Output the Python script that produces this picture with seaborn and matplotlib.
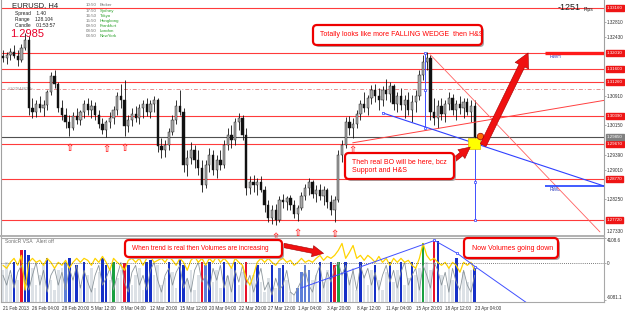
import numpy as np
import matplotlib
matplotlib.use('Agg')
import matplotlib.pyplot as plt
import matplotlib.transforms as mtransforms
from matplotlib.patches import FancyBboxPatch, Rectangle
import seaborn as sns

# ── DATA: EURUSD H4 candles (price x 10000) ─────────────────
first_open = 13193
high = [13209, 13203, 13214, 13221, 13209, 13224, 13252, 13245, 13085, 13080,
        13090, 13080, 13106, 13152, 13157, 13126, 13080, 13059, 13041, 13049,
        13059, 13054, 13080, 13085, 13080, 13075, 13054, 13034, 13029, 13049,
        13065, 13101, 13121, 13131, 13041, 13059, 13065, 13070, 13080, 13085,
        13080, 13090, 13085, 12982, 12977, 13008, 13041, 13080, 13106, 13059,
        12952, 12972, 12964, 12952, 12926, 12926, 12957, 12952, 12939, 12952,
        12977, 13008, 13016, 13034, 13047, 13041, 13008, 12885, 12887, 12880,
        12885, 12859, 12823, 12810, 12813, 12833, 12838, 12833, 12836, 12823,
        12810, 12844, 12864, 12880, 12874, 12862, 12864, 12859, 12854, 12836,
        12833, 12952, 12977, 13036, 13039, 13034, 13054, 13080, 13101, 13093,
        13119, 13121, 13111, 13116, 13134, 13126, 13121, 13101, 13111, 13093,
        13101, 13093, 13106, 13157, 13196, 13203, 13196, 13085, 13080, 13085,
        13080, 13101, 13095, 13080, 13090, 13085, 13085, 13080, 13080]
low = [13178, 13173, 13183, 13188, 13167, 13178, 13209, 13041, 13034, 13036,
       13049, 13039, 13054, 13093, 13111, 13049, 13029, 13008, 12987, 13003,
       13018, 13016, 13034, 13041, 13034, 13029, 13008, 12993, 12985, 13008,
       13018, 13041, 13059, 12987, 12998, 13013, 13023, 13018, 13034, 13039,
       13034, 13049, 12946, 12931, 12933, 12952, 12990, 13018, 13041, 12895,
       12885, 12916, 12905, 12887, 12844, 12854, 12895, 12887, 12880, 12900,
       12905, 12952, 12957, 12964, 13003, 12977, 12836, 12838, 12844, 12836,
       12844, 12792, 12766, 12761, 12759, 12766, 12802, 12797, 12797, 12777,
       12769, 12797, 12823, 12836, 12828, 12818, 12823, 12810, 12802, 12784,
       12766, 12818, 12921, 12957, 12990, 12982, 13008, 13029, 13049, 13041,
       13070, 13075, 13054, 13065, 13080, 13075, 13054, 13049, 13054, 13034,
       13041, 13023, 13049, 13080, 13131, 13157, 13029, 13016, 13008, 13029,
       13023, 13054, 13041, 13029, 13044, 13034, 13041, 13023, 12977]
close = [13188, 13196, 13203, 13193, 13183, 13214, 13234, 13059, 13049, 13070,
         13059, 13067, 13101, 13142, 13121, 13059, 13041, 13023, 13008, 13039,
         13029, 13049, 13070, 13054, 13065, 13041, 13018, 13003, 13023, 13034,
         13054, 13090, 13080, 13013, 13029, 13044, 13034, 13059, 13070, 13049,
         13070, 13080, 12962, 12952, 12964, 12998, 13029, 13065, 13049, 12913,
         12931, 12952, 12926, 12905, 12862, 12913, 12939, 12900, 12926, 12913,
         12964, 12990, 12977, 13023, 13034, 12990, 12854, 12869, 12862, 12869,
         12849, 12810, 12777, 12797, 12772, 12823, 12818, 12828, 12810, 12787,
         12802, 12833, 12854, 12869, 12838, 12849, 12833, 12849, 12818, 12797,
         12823, 12939, 12964, 13023, 13008, 13018, 13044, 13070, 13059, 13085,
         13106, 13090, 13080, 13106, 13095, 13116, 13070, 13090, 13067, 13080,
         13054, 13075, 13090, 13144, 13178, 13188, 13049, 13034, 13065, 13044,
         13070, 13085, 13054, 13070, 13059, 13075, 13049, 13065, 12985]

date_labels = ['21 Feb 2013', '26 Feb 04:00', '28 Feb 20:00', '5 Mar 12:00', '8 Mar 04:00',
               '12 Mar 20:00', '15 Mar 12:00', '20 Mar 04:00', '22 Mar 20:00', '27 Mar 12:00',
               '1 Apr 04:00', '3 Apr 20:00', '8 Apr 12:00', '11 Apr 04:00', '15 Apr 20:00',
               '18 Apr 12:00', '23 Apr 04:00']

# horizontal levels (price x 10000)
red_levels = [13316, 13201, 13160, 13126, 13039, 12967, 12877, 12772]
dash_level = 13108
last_price = 12985
rwh_level = 13201
rwl_level = 12859
fractal_idx = [18, 28, 33, 74, 80, 90, 95]

# drawn trend lines: (candle index, price x 10000)
fall_line = ([116, 162], [13196, 12741])
rise_line = ([94.9, 163.1], [12970, 13079])
wedge_line = ([103, 163.1], [13047, 12859])
vert1 = ([114.6, 114.6, 114.6], [13201, 13106, 13008])
vert2 = ([128.2, 128.2, 128.2], [12964, 12869, 12772])

# ── DATA: SonicR VSA sub window ─────────────────────────────
vol = [-1230, 60, -2040, 60, -2850, 2010, 2010, 1200, -910, -3650,
       -2040, -420, 710, -2850, -4460, -1230, -910, 60, 710, -2520,
       -420, -3650, 60, -2040, -910, -4140, -1550, 710, -420, -2850,
       60, -2520, -1230, -100, -420, -3650, -2040, -910, -4460, 60,
       390, -2040, -420, -3650, -2520, 60, -1550, -4140, 390, -420,
       -2850, -1230, -4460, -2040, 60, -420, 60, -3170, -1230, -4140,
       60, -2200, -910, 60, -3650, -1550, 60, -3650, -2040, -420,
       -3170, -4790, -2520, -420, -4140, -910, -420, -2850, -4790, -5270,
       -4140, -1550, -420, -1230, -2850, -2040, 60, -3170, -1230, 60,
       -420, 60, -1550, 60, -2850, -910, -4460, 60, -2040, -3650,
       -1230, -420, -2850, -4460, -1550, 60, -3170, -1230, 60, -3650,
       -2520, 60, -2040, -910, 3140, 60, -1230, 3620, 3460, -2040,
       -3650, -910, -2850, 710, -4460, -1550, -3170, -1230, -910]
vol_kind = list("gggbgrbbgg" "ggbggggmbg" "bgbggggbbg" "nggrbggggb" "bggggbggbb"
                "ggggrmbggg" "bggbggrggb" "gggbgmbggg" "mmmmggbggb" "rngbgggbgg"
                "gbgggbggbg" "gbggnggrbg" "gggbggggb")
yellow = [-420, -910, 60, 710, -420, 1200, -4460, 60, 710, 60,
          390, -420, 710, 60, -910, 60, -420, 390, -910, 60,
          710, 60, 710, 390, -420, 710, 60, 1030, 60, -1230,
          710, 60, -420, -1230, 390, 710, 60, 710, -420, 710,
          1030, 60, 390, 710, 60, 1030, 390, -420, 710, 60,
          -1230, 390, 1030, 60, 710, -420, 710, 60, 1030, 60,
          710, 60, -910, 710, 60, -420, -2520, -3650, -2040, 60,
          710, 60, 710, 60, -420, 390, 710, 60, 390, -420,
          60, 710, 60, 390, 60, 710, 1200, 390, 1030, 710,
          1200, 2010, 3140, 710, 1680, 2810, 710, 1200, 390, 1200,
          710, 60, 1030, 60, 710, -420, 710, 60, 710, 60,
          390, -420, -910, 710, 3140, 1200, 390, 710, 60, -420,
          60, -910, 60, -420, -1550, 60, -420, 60, -1230]
grey_line = [-2040, -3650, -1230, -4140, -1550, -420, -2850, -4460, -2040, 60,
             -3650, -1230, -4790, -2040, -910, -3650, -1550, -4460, -910, -2850,
             -420, -4140, -1230, -3170, -4790, -2040, -420, -3650, -2520, -910,
             -4460, -2040, 60, -3170, -4790, -1550, -420, -3650, -2040, -4460,
             -1230, 60, -2850, -4790, -2040, -910, -3650, -1550, -420, -4140,
             -2520, -4790, -1230, 60, -3170, -2040, -4460, -910, -2850, -420,
             -4140, -2040, -4790, -1230, -3170, -420, -3650, -2040, -4790, -2850,
             -910, -4460, -3170, -5270, -2520, -4460, -3650, -1230, -4790, -5270,
             -4140, -2850, -1230, -3650, -4790, -2040, -420, -4140, -1550, -3170,
             -910, 60, -2040, -420, -3650, -1230, -4460, -420, -2520, -910,
             -3650, -1550, -4460, -2040, -420, -3170, -1230, -4140, -1550, 60,
             -3650, -2040, -910, -4460, -420, -2040, -4140, 60, -1230, -3650,
             -1550, -4790, -910, -3170, -4460, -1230, -3650, -4790, -2040]
vsa_up = ([80.8, 117.1], [-4140, 3622])
vsa_down = ([117.1, 123.3, 128.2, 142.8], [3622, 1520, -660, -6820])

# ── SETUP ───────────────────────────────────────────────────
sns.set_theme(style="white")
plt.rcParams['font.family'] = ['Liberation Sans', 'DejaVu Sans']
W, H = 625, 312
PX = mtransforms.IdentityTransform()

fig = plt.figure(figsize=(W / 100, H / 100), dpi=100)
fig.patch.set_facecolor('white')
ax = fig.add_axes([1 / W, 76 / H, 603 / W, 236 / H])
ax2 = fig.add_axes([1 / W, 10 / H, 603 / W, 64.5 / H])

idx = np.arange(len(close))
hi = np.array(high) / 1e4
lo = np.array(low) / 1e4
cl = np.array(close) / 1e4
op = np.r_[first_open / 1e4, cl[:-1]]

# ═══════════════════════════════════════════════════════════
# MAIN PRICE WINDOW
# ═══════════════════════════════════════════════════════════
for lv in red_levels:
    ax.axhline(lv / 1e4, color='#ff3b3b', lw=0.8, zorder=1)
ax.axhline(dash_level / 1e4, color='#e89090', lw=0.7, ls=(0, (4, 2, 1, 2)), zorder=1)
ax.axhline(last_price / 1e4, color='#505050', lw=0.8, zorder=1)

ax.vlines(idx, np.minimum(lo, np.minimum(op, cl)), np.maximum(hi, np.maximum(op, cl)),
          color='#111111', lw=0.6, zorder=3)
body_col = ['#111111' if c < o else '#a8a8a8' for o, c in zip(op, cl)]
ax.bar(idx, np.abs(cl - op), bottom=np.minimum(op, cl), width=0.62,
       color=body_col, edgecolor='#111111', linewidth=0.3, zorder=4)

for j in fractal_idx:
    ax.text(j, lo[j] - 0.0031, '⇧', color='#ff2a2a', fontsize=7, fontweight='bold',
            ha='center', va='center', zorder=5)

ax.plot(np.array(fall_line[0]), np.array(fall_line[1]) / 1e4, color='#ff6060', lw=0.6, zorder=5)
ax.plot(np.array(rise_line[0]), np.array(rise_line[1]) / 1e4, color='#ff4040', lw=0.7, zorder=5)
ax.plot(np.array(wedge_line[0]), np.array(wedge_line[1]) / 1e4, color='#3040ff', lw=0.8, zorder=5)
ax.plot(wedge_line[0][0], wedge_line[1][0] / 1e4, 's', ms=1.8, mfc='white', mec='#3040ff', mew=0.5, zorder=6)
for vx, vy in (vert1, vert2):
    ax.plot(vx, np.array(vy) / 1e4, color='#4050ff', lw=0.7, marker='s', ms=1.8,
            mfc='white', mec='#3040ff', mew=0.5, zorder=6)

ax.plot([147.2, 163.1], [rwh_level / 1e4] * 2, color='#ff1a1a', lw=2.4, zorder=5, solid_capstyle='butt')
ax.plot([147.2, 163.1], [rwl_level / 1e4] * 2, color='#2040ff', lw=1.2, zorder=5, solid_capstyle='butt')
ax.text(148.3, rwh_level / 1e4 - 0.0003, 'RWH', color='#3040c0', fontsize=3.6, va='top')
ax.text(148.3, rwl_level / 1e4 - 0.0003, 'RWL', color='#3040c0', fontsize=3.6, va='top')

ax.add_patch(Rectangle((126.3, 1.2954), 3.2, 0.0028, fc='#ffff00', ec='#e0c000', lw=0.5, zorder=7))
ax.scatter([129.5], [1.2987], s=22, color='#ff6a00', edgecolor='#a00000', lw=0.5, zorder=8)

big = dict(arrowstyle='simple,head_length=0.85,head_width=0.9,tail_width=0.38',
           fc='#f01010', ec='#a00000', lw=0.4, mutation_scale=12, shrinkA=0, shrinkB=0)
ax.annotate('', xy=(142.5, 1.3201), xytext=(130.3, 1.2964), arrowprops=big, zorder=9)
small = dict(arrowstyle='simple,head_length=0.9,head_width=0.9,tail_width=0.35',
             fc='#f01010', ec='#a00000', lw=0.4, mutation_scale=9, shrinkA=0, shrinkB=0)
ax.annotate('', xy=(126.8, 1.2959), xytext=(120.0, 1.2908), arrowprops=small, zorder=9)

ax.set_xlim(-0.54, 163.1)
ax.set_ylim(1.27305, 1.3337)
ax.set_xticks([])
ax.yaxis.tick_right()
# price scale ticks, skipping the ones hidden behind the level boxes
boxed = red_levels + [last_price]
ticks = [t for t in (13281 - 38 * k for k in range(14))
         if min(abs(t - b) for b in boxed) > 17]
ax.set_yticks([t / 1e4 for t in ticks])
ax.set_yticklabels([f'{t / 1e4:.5f}' for t in ticks])
ax.tick_params(axis='y', labelsize=3.3, labelcolor='#303030', length=1.2, width=0.4,
               color='#707070', pad=0.8)
for s in ['left', 'right']:
    ax.spines[s].set_color('#a0a0a0'); ax.spines[s].set_linewidth(0.8)
ax.spines['bottom'].set_color('#b0b0b0'); ax.spines['bottom'].set_linewidth(1.4)
ax.spines['top'].set_visible(False)
ax.grid(False)

# price labels on right
blend = mtransforms.blended_transform_factory(ax.transAxes, ax.transData)
for lv in red_levels:
    ax.text(1.0045, lv / 1e4, f'{lv / 1e4:.5f}', transform=blend, fontsize=3.2, color='white',
            va='center', ha='left', zorder=10,
            bbox=dict(boxstyle='square,pad=0.25', fc='#ee1515', ec='#ee1515'))
ax.text(1.0045, last_price / 1e4, f'{last_price / 1e4:.5f}', transform=blend, fontsize=3.2,
        color='white', va='center', ha='left', zorder=10,
        bbox=dict(boxstyle='square,pad=0.25', fc='#808080', ec='#808080'))
ax.text(1.0045, 1.2736, '1.27330', transform=blend, fontsize=3.3, color='#303030',
        va='bottom', ha='left')
ax.text(0.012, dash_level / 1e4, '#20764462 lb', transform=blend, fontsize=3,
        color='#909090', va='center')

# ═══════════════════════════════════════════════════════════
# SonicR VSA WINDOW
# ═══════════════════════════════════════════════════════════
kind_col = {'g': '#dce1e6', 'b': '#1530c8', 'r': '#e8102a', 'n': '#18a040', 'm': '#5e7fd8'}
vbot = -6403
ax2.bar(idx, np.array(vol) - vbot, bottom=vbot, width=0.7,
        color=[kind_col[k] for k in vol_kind], linewidth=0, zorder=2)
sns.lineplot(x=idx, y=grey_line, ax=ax2, color='#8c969c', lw=0.6, zorder=3)
sns.lineplot(x=idx, y=yellow, ax=ax2, color='#ffd400', lw=0.9, zorder=4)
ax2.axhline(0, color='#505050', lw=0.6, ls=(0, (1, 1.5)), zorder=5)
ax2.plot(vsa_up[0], vsa_up[1], color='#4050ff', lw=0.7, zorder=6)
ax2.plot(vsa_down[0], vsa_down[1], color='#4050ff', lw=0.7, marker='s', ms=1.8,
         mfc='white', mec='#3040ff', mew=0.5, zorder=6)
lowarr = dict(arrowstyle='simple,head_length=0.9,head_width=0.9,tail_width=0.35',
              fc='#f01010', ec='#a00000', lw=0.4, mutation_scale=9, shrinkA=0, shrinkB=0)
ax2.annotate('', xy=(87.0, 1520), xytext=(76.2, 2814), arrowprops=lowarr, zorder=9)

ax2.set_xlim(-0.54, 163.1)
ax2.set_ylim(vbot, 4109)
ax2.set_xticks(range(0, 129, 8))
ax2.set_xticklabels(date_labels)
for lbl in ax2.get_xticklabels():
    lbl.set_ha('left')
ax2.yaxis.tick_right()
ax2.set_yticks([4108.6, 0, -6081.1])
ax2.set_yticklabels(['4108.6', '0', '-6081.1'])
ylbls = ax2.get_yticklabels()
ylbls[0].set_va('top')
ylbls[2].set_va('bottom')
ax2.tick_params(axis='x', labelsize=3.3, labelcolor='#303030', length=1.5, width=0.4,
                color='#707070', pad=1.2)
ax2.tick_params(axis='y', labelsize=3.3, labelcolor='#303030', length=1.2, width=0.4,
                color='#707070', pad=0.8)
for s in ax2.spines.values():
    s.set_color('#a8a8a8'); s.set_linewidth(0.8)
ax2.grid(False)
ax2.set_ylabel(''); ax2.set_xlabel('')
ax2.text(0.006, 0.97, 'SonicR VSA   Alert off', transform=ax2.transAxes, fontsize=3.6,
         color='#707070', va='top')

# ═══════════════════════════════════════════════════════════
# TEXT OVERLAYS (image pixel positions)
# ═══════════════════════════════════════════════════════════
def ftext(x, y, s, **kw):
    fig.text(x, H - y, s, transform=PX, **kw)

ftext(12, 6, 'EURUSD, H4', fontsize=5.5, color='#202020', va='center')
ftext(15, 14, 'Spread    1.40', fontsize=3.5, color='#202020', va='center')
ftext(15, 20, 'Range    128.104', fontsize=3.5, color='#202020', va='center')
ftext(15, 25.5, 'Candle    01:53:57', fontsize=3.5, color='#202020', va='center')
ftext(10, 34, '1.2985', fontsize=8, color='#e8002a', va='center')
sessions = [('10:50', 'Broker'), ('17:50', 'Sydney'), ('16:50', 'Tokyo'), ('15:50', 'Hongkong'),
            ('09:50', 'Frankfurt'), ('08:50', 'London'), ('03:50', 'NewYork')]
for i, (t, name) in enumerate(sessions):
    yy = 5.5 + 5.1 * i
    ftext(86, yy, t, fontsize=3.2, color='#707070', va='center')
    ftext(100, yy, name, fontsize=3.2, color='#707070' if i == 0 else '#28a028', va='center')
ftext(558, 8, '-1251', fontsize=6.5, color='#202020', va='center')
ftext(584, 9, 'Pips', fontsize=3.6, color='#202020', va='center')


def callout(x0, y0, x1, y1, text, size, tx):
    shadow = FancyBboxPatch((x0 + 2, H - y1 - 2), x1 - x0, y1 - y0, transform=PX,
                            boxstyle='round,pad=0,rounding_size=4', fc='#a8a8a8', ec='none')
    box = FancyBboxPatch((x0, H - y1), x1 - x0, y1 - y0, transform=PX,
                         boxstyle='round,pad=0,rounding_size=4', fc='white', ec='#ee0000', lw=1.6)
    fig.add_artist(shadow)
    fig.add_artist(box)
    fig.text(tx, H - (y0 + y1) / 2, text, transform=PX, fontsize=size, color='#ff0000',
             va='center', ha='left', linespacing=1.4)


callout(313, 25, 482, 45, 'Totally looks like more FALLING WEDGE  then H&S', 5, 320)
callout(345, 153, 454, 179, 'Theh real BO will be here, bcz\nSupport and H&S', 5, 352)
callout(125, 240, 282, 257, 'When trend is real then Volumes are increasing', 4.7, 132)
callout(464, 238, 558, 258, 'Now Volumes going down', 5, 472)

plt.savefig('out.png', dpi=100)
print("saved")
